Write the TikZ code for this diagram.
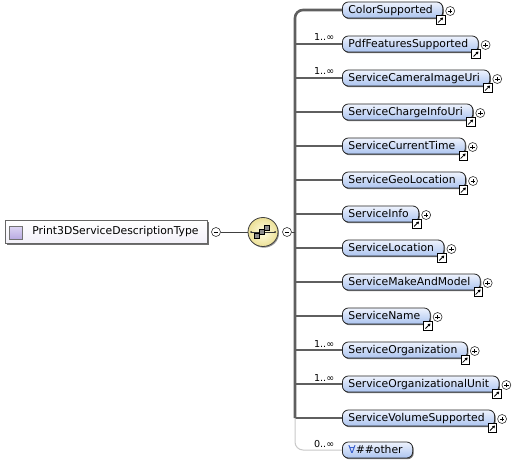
\documentclass[tikz,border=0pt]{standalone}
\usepackage{fontspec}
\setmainfont{DejaVu Sans}
\usepackage{tikz}
\usetikzlibrary{shapes.geometric,shadows,arrows.meta}

\definecolor{barline}{RGB}{95,95,95}
\definecolor{anyline}{RGB}{200,200,200}
\definecolor{elemtop}{RGB}{238,243,253}
\definecolor{elembot}{RGB}{172,196,240}
\definecolor{seqin}{RGB}{255,253,228}
\definecolor{seqout}{RGB}{236,224,150}
\definecolor{anyblue}{RGB}{40,80,200}
\definecolor{typetop}{RGB}{222,214,244}
\definecolor{typebot}{RGB}{184,170,226}

\tikzset{
    elem/.style={draw=black!85, line width=0.8pt, rounded corners=6pt,
        top color=elemtop, bottom color=elembot, anchor=west,
        inner xsep=6pt, inner ysep=0pt, minimum height=16pt,
        text height=9.6pt, text depth=1.8pt,
        font=\fontsize{10.8}{12}\selectfont,
        execute at end node={\hspace*{4pt}},
        drop shadow={shadow xshift=1pt, shadow yshift=-1.2pt, fill=black!70, opacity=.8}},
    typebox/.style={draw=black!60, line width=0.7pt, top color=white,
        bottom color=black!4!typetop!30, anchor=west, inner xsep=5pt,
        text width=192pt, minimum height=23pt,
        font=\fontsize{10.8}{12}\selectfont,
        drop shadow={shadow xshift=1.2pt, shadow yshift=-1.5pt, fill=black!70, opacity=.8}},
    seq/.style={ellipse, draw=black!75, line width=0.8pt, inner color=seqin,
        outer color=seqout, minimum width=30pt, minimum height=29pt,
        drop shadow={shadow xshift=1pt, shadow yshift=-1.2pt, fill=black!60, opacity=.7}},
    pm/.style={circle, draw=black!80, fill=white, minimum size=9pt,
        inner sep=0pt, line width=0.6pt},
    refbox/.style={draw=black, fill=white, minimum size=8.5pt, inner sep=0pt,
        line width=0.8pt},
    branch/.style={draw=barline, line width=2pt},
    bar/.style={draw=barline, line width=2.6pt},
    mult/.style={font=\fontsize{9.6}{10}\selectfont, inner sep=1pt, text=black}
}

\begin{document}
\begin{tikzpicture}[x=1pt, y=-1pt]
    \useasboundingbox (0,0) rectangle (513,468);

    % complex type and sequence
    \node[typebox] (type) at (5,232) {\hspace*{22pt}Print3DServiceDescriptionType};
    \draw[draw=black!55, line width=0.6pt, top color=typetop, bottom color=typebot]
        (9,226) rectangle (22,239);
    \node[pm] (tminus) at (216,232) {};
    \node[seq] (seq) at (263,232) {};
    \node[pm] (sminus) at (287,232) {};
    \draw[line width=1pt, black!75] (tminus) -- (seq);
    \foreach \m in {tminus,sminus}
        \draw[line width=0.7pt] ([xshift=-2.3pt]\m.center) -- ([xshift=2.3pt]\m.center);

    % sequence glyph
    \draw[line width=0.6pt, black!80] (251,232) -- (275,232);
    \fill[black!80] (251,232) circle (1pt) (275,232) circle (1pt);
    \draw[fill=black!45, line width=0.5pt] (254.5,233.5) rectangle (259.5,238.5);
    \draw[fill=black!45, line width=0.5pt] (259.5,229.5) rectangle (264.5,234.5);
    \draw[fill=black!45, line width=0.5pt] (264.5,225.5) rectangle (269.5,230.5);

    % elements
    \node[elem] (color) at (342,10) {ColorSupported};
    \node[elem] (pdf) at (342,44) {PdfFeaturesSupported};
    \node[elem] (camera) at (342,78) {ServiceCameraImageUri};
    \node[elem] (charge) at (342,112) {ServiceChargeInfoUri};
    \node[elem] (ctime) at (342,146) {ServiceCurrentTime};
    \node[elem] (geo) at (342,180) {ServiceGeoLocation};
    \node[elem] (info) at (342,214) {ServiceInfo};
    \node[elem] (location) at (342,248) {ServiceLocation};
    \node[elem] (model) at (342,282) {ServiceMakeAndModel};
    \node[elem] (name) at (342,316) {ServiceName};
    \node[elem] (org) at (342,350) {ServiceOrganization};
    \node[elem] (orgunit) at (342,384) {ServiceOrganizationalUnit};
    \node[elem] (volume) at (342,418) {ServiceVolumeSupported};
    \node[elem] (other) at (342,450) {\textcolor{anyblue}{∀}\#\#other};

    % connectors
    \coordinate (barend) at (295,418);
    \draw[bar, rounded corners=8pt] (color.west) -| (barend);
    \draw[line width=1pt, black!75] (sminus.east) -- (sminus -| barend);
    \foreach \e in {ctime,geo,info,location,model,name,volume}
        \draw[branch] (\e.west -| barend) -- (\e.west);
    \draw[branch] (charge.west -| barend) -- (charge.west);
    \draw[branch] (pdf.west -| barend) -- node[mult, pos=.62, above=1pt] {1..∞} (pdf.west);
    \draw[branch] (camera.west -| barend) -- node[mult, pos=.62, above=1pt] {1..∞} (camera.west);
    \draw[branch] (org.west -| barend) -- node[mult, pos=.62, above=1pt] {1..∞} (org.west);
    \draw[branch] (orgunit.west -| barend) -- node[mult, pos=.62, above=1pt] {1..∞} (orgunit.west);
    \draw[anyline, line width=1pt, rounded corners=8pt] (barend) |-
        node[mult, pos=.81, above=1pt] {0..∞} (other.west);

    % reference arrows and plus signs
    \foreach \e in {color,pdf,camera,charge,ctime,geo,info,location,model,name,org,orgunit,volume}{
        \node[refbox] (\e ref) at ([xshift=-2.5pt, yshift=-1.5pt]\e.south east) {};
        \draw[line width=0.8pt, -{Triangle[length=2.6pt, width=3pt]}]
            ([shift={(-2.6pt,-2.6pt)}]\e ref.center) -- ([shift={(2.4pt,2.4pt)}]\e ref.center);
        \node[pm] (\e plus) at ([xshift=7pt, yshift=-1pt]\e.east) {};
        \draw[line width=0.7pt] ([xshift=-2.3pt]\e plus.center) -- ([xshift=2.3pt]\e plus.center)
            ([yshift=-2.3pt]\e plus.center) -- ([yshift=2.3pt]\e plus.center);
    }
\end{tikzpicture}
\end{document}
